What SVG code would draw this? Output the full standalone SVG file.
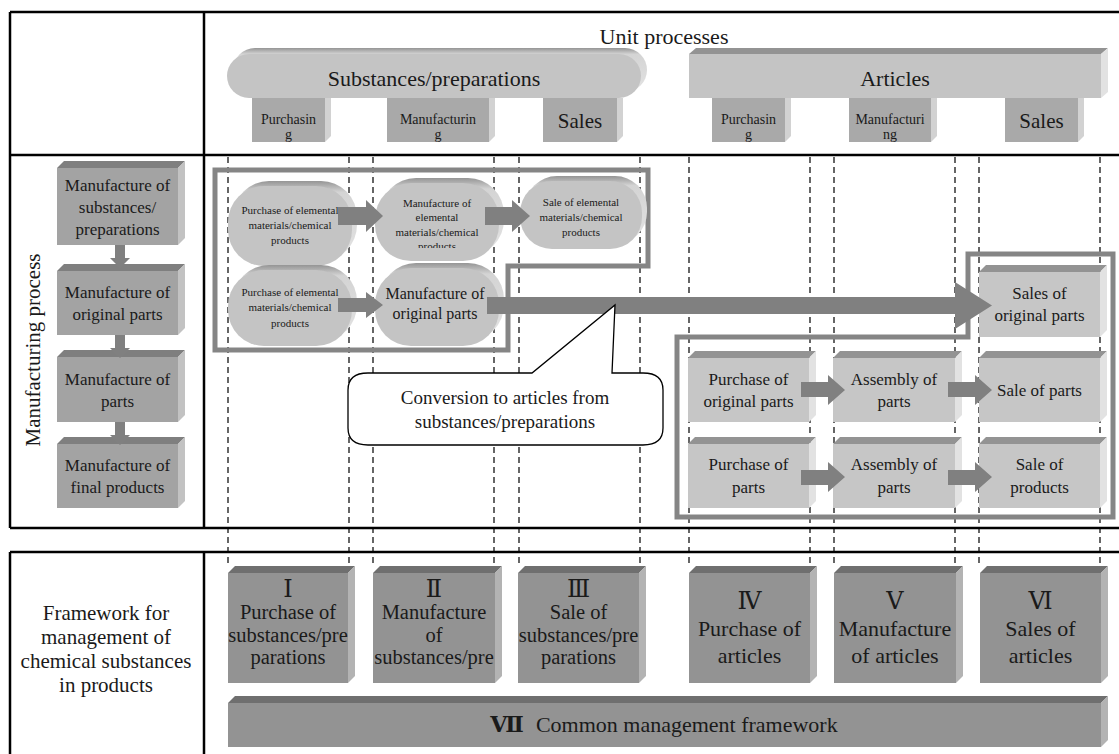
<svg xmlns="http://www.w3.org/2000/svg" width="1119" height="754" viewBox="0 0 1119 754">
<defs>
<style>
.t{font-family:"Liberation Serif","Times New Roman",serif;fill:#1a1a1a;text-anchor:middle}
.rn{font-family:"Liberation Serif","DejaVu Serif","Noto Sans CJK JP",serif;fill:#1a1a1a;text-anchor:middle}
.ln{stroke:#000;stroke-width:2.5;fill:none}
.dash{stroke:#000;stroke-width:1.2;stroke-dasharray:6 4;fill:none}
.frm{fill:none;stroke:#858585;stroke-width:5}
.arw{fill:#808080}
.lf{fill:#a3a3a3}.lt{fill:#7f7f7f}.ls{fill:#c2c2c2}
.bf{fill:#939393}.bt{fill:#6f6f6f}.bs{fill:#b3b3b3}
.rf{fill:#c6c6c6}.rt{fill:#939393}.rs{fill:#e2e2e2}
.hf{fill:#a9a9a9}.hs{fill:#d2d2d2}
.pf{fill:#c4c4c4}.pb{fill:url(#gb)}
</style>
<linearGradient id="gb" x1="0" y1="0" x2="0" y2="1">
<stop offset="0" stop-color="#959595"/><stop offset="0.14" stop-color="#d4d4d4"/><stop offset="1" stop-color="#e3e3e3"/>
</linearGradient>
<clipPath id="p2clip"><rect x="360" y="170" width="160" height="78"/></clipPath>
</defs>
<rect width="1119" height="754" fill="#fff"/>

<!-- table grid -->
<g id="grid">
<path class="ln" d="M10,12 H1119 M10,12 V528 M204,12 V528 M10,155 H1119 M10,528 H1119 M10,552 H1119 M10,552 V754 M204,552 V754"/>
</g>

<!-- dashed column guides -->
<g id="guides">
<path class="dash" d="M228,157 V567 M349,157 V567 M373,157 V567 M494,157 V567 M519,157 V567 M640,157 V567 M689,157 V567 M810,157 V567 M834,157 V567 M955,157 V567 M979,157 V567 M1100,157 V567"/>
</g>

<!-- header -->
<g id="unit-processes"><text class="t" x="664" y="44" font-size="22">Unit processes</text></g>

<g id="substances-bar">
<rect class="pb" x="233" y="48" width="414" height="44" rx="22"/>
<rect class="pf" x="227" y="54" width="414" height="44" rx="22"/>
<text class="t" x="434" y="86" font-size="22">Substances/preparations</text>
</g>
<g id="articles-bar">
<polygon class="rt" points="689,54 1101,54 1108,48 696,48"/>
<polygon class="rs" points="1101,54 1108,48 1108,92 1101,98"/>
<rect class="pf" x="689" y="54" width="412" height="44"/>
<text class="t" x="895" y="86" font-size="22">Articles</text>
</g>

<g id="sp-purchasing">
<rect class="hf" x="252" y="98" width="73" height="44"/>
<polygon class="hs" points="325,98 331,98 331,136 325,142"/>
<text class="t" x="288.5" y="124" font-size="14">Purchasin</text>
<text class="t" x="288.5" y="139" font-size="14">g</text>
</g>
<g id="sp-manufacturing">
<rect class="hf" x="387" y="98" width="102" height="44"/>
<polygon class="hs" points="489,98 495,98 495,136 489,142"/>
<text class="t" x="438" y="124" font-size="14">Manufacturin</text>
<text class="t" x="438" y="139" font-size="14">g</text>
</g>
<g id="sp-sales">
<rect class="hf" x="543" y="98" width="74" height="44"/>
<polygon class="hs" points="617,98 623,98 623,136 617,142"/>
<text class="t" x="580" y="128" font-size="21">Sales</text>
</g>
<g id="ar-purchasing">
<rect class="hf" x="712" y="98" width="73" height="44"/>
<polygon class="hs" points="785,98 791,98 791,136 785,142"/>
<text class="t" x="748.5" y="124" font-size="14">Purchasin</text>
<text class="t" x="748.5" y="139" font-size="14">g</text>
</g>
<g id="ar-manufacturing">
<rect class="hf" x="849" y="98" width="82" height="44"/>
<polygon class="hs" points="931,98 937,98 937,136 931,142"/>
<text class="t" x="890" y="124" font-size="14">Manufacturi</text>
<text class="t" x="890" y="139" font-size="14">ng</text>
</g>
<g id="ar-sales">
<rect class="hf" x="1005" y="98" width="73" height="44"/>
<polygon class="hs" points="1078,98 1084,98 1084,136 1078,142"/>
<text class="t" x="1041.5" y="128" font-size="21">Sales</text>
</g>

<!-- manufacturing process column -->
<g id="mp-label"><text class="t" font-size="21" transform="translate(40,350) rotate(-90)">Manufacturing process</text></g>

<g id="mp-1">
<polygon class="lt" points="57,168 178,168 185,161 64,161"/>
<polygon class="ls" points="178,168 185,161 185,238 178,245"/>
<rect class="lf" x="57" y="168" width="121" height="77"/>
<text class="t" x="117.5" y="190.5" font-size="17">Manufacture of</text>
<text class="t" x="117.5" y="212.5" font-size="17">substances/</text>
<text class="t" x="117.5" y="234.5" font-size="17">preparations</text>
</g>
<g id="mp-2">
<polygon class="lt" points="57,271 178,271 185,264 64,264"/>
<polygon class="ls" points="178,271 185,264 185,328 178,335"/>
<rect class="lf" x="57" y="271" width="121" height="64"/>
<text class="t" x="117.5" y="298" font-size="17">Manufacture of</text>
<text class="t" x="117.5" y="320" font-size="17">original parts</text>
</g>
<g id="mp-3">
<polygon class="lt" points="57,357 178,357 185,350 64,350"/>
<polygon class="ls" points="178,357 185,350 185,415 178,422"/>
<rect class="lf" x="57" y="357" width="121" height="65"/>
<text class="t" x="117.5" y="384.5" font-size="17">Manufacture of</text>
<text class="t" x="117.5" y="406.5" font-size="17">parts</text>
</g>
<g id="mp-4">
<polygon class="lt" points="57,444 178,444 185,437 64,437"/>
<polygon class="ls" points="178,444 185,437 185,501 178,508"/>
<rect class="lf" x="57" y="444" width="121" height="64"/>
<text class="t" x="117.5" y="471" font-size="17">Manufacture of</text>
<text class="t" x="117.5" y="493" font-size="17">final products</text>
</g>

<!-- grey frames -->
<g id="frames">
<polygon class="frm" points="215,170 648,170 648,266 508,266 508,350 215,350"/>
<polygon class="frm" points="968,254 1113,254 1113,517 677,517 677,337 968,337"/>
</g>

<!-- pills -->
<g id="pill-1">
<rect class="pb" x="233" y="181" width="124" height="80" rx="36"/>
<rect class="pf" x="228" y="186" width="124" height="80" rx="36"/>
<text class="t" x="290" y="214" font-size="11">Purchase of elemental</text>
<text class="t" x="290" y="229" font-size="11">materials/chemical</text>
<text class="t" x="290" y="244" font-size="11">products</text>
</g>
<g id="pill-2">
<rect class="pb" x="380" y="178" width="124" height="78" rx="36"/>
<rect class="pf" x="375" y="183" width="124" height="78" rx="36"/>
<g clip-path="url(#p2clip)">
<text class="t" x="437" y="207" font-size="11">Manufacture of</text>
<text class="t" x="437" y="221" font-size="11">elemental</text>
<text class="t" x="437" y="236" font-size="11">materials/chemical</text>
<text class="t" x="437" y="250" font-size="11">products</text>
</g>
</g>
<g id="pill-3">
<rect class="pb" x="525" y="176" width="122" height="68" rx="32"/>
<rect class="pf" x="520" y="181" width="122" height="68" rx="32"/>
<text class="t" x="581" y="206" font-size="11">Sale of elemental</text>
<text class="t" x="581" y="221" font-size="11">materials/chemical</text>
<text class="t" x="581" y="236" font-size="11">products</text>
</g>
<g id="pill-4">
<rect class="pb" x="233" y="265" width="124" height="76" rx="36"/>
<rect class="pf" x="228" y="270" width="124" height="76" rx="36"/>
<text class="t" x="290" y="296" font-size="11">Purchase of elemental</text>
<text class="t" x="290" y="311" font-size="11">materials/chemical</text>
<text class="t" x="290" y="327" font-size="11">products</text>
</g>
<g id="pill-5">
<rect class="pb" x="380" y="263" width="124" height="78" rx="36"/>
<rect class="pf" x="375" y="268" width="124" height="78" rx="36"/>
<text class="t" x="435" y="299" font-size="16">Manufacture of</text>
<text class="t" x="435" y="319" font-size="16">original parts</text>
</g>

<!-- right boxes -->
<g id="sales-original-parts">
<polygon class="rt" points="979,272 1100,272 1107,265 986,265"/>
<polygon class="rs" points="1100,272 1107,265 1107,330 1100,337"/>
<rect class="rf" x="979" y="272" width="121" height="65"/>
<text class="t" x="1039.5" y="299" font-size="17">Sales of</text>
<text class="t" x="1039.5" y="321" font-size="17">original parts</text>
</g>
<g id="purchase-original-parts">
<polygon class="rt" points="688,358 809,358 816,351 695,351"/>
<polygon class="rs" points="809,358 816,351 816,415 809,422"/>
<rect class="rf" x="688" y="358" width="121" height="64"/>
<text class="t" x="748.5" y="385" font-size="17">Purchase of</text>
<text class="t" x="748.5" y="407" font-size="17">original parts</text>
</g>
<g id="assembly-parts-1">
<polygon class="rt" points="833,358 955,358 962,351 840,351"/>
<polygon class="rs" points="955,358 962,351 962,415 955,422"/>
<rect class="rf" x="833" y="358" width="122" height="64"/>
<text class="t" x="894" y="385" font-size="17">Assembly of</text>
<text class="t" x="894" y="407" font-size="17">parts</text>
</g>
<g id="sale-of-parts">
<polygon class="rt" points="979,358 1100,358 1107,351 986,351"/>
<polygon class="rs" points="1100,358 1107,351 1107,415 1100,422"/>
<rect class="rf" x="979" y="358" width="121" height="64"/>
<text class="t" x="1039.5" y="396" font-size="17">Sale of parts</text>
</g>
<g id="purchase-parts">
<polygon class="rt" points="688,444 809,444 816,437 695,437"/>
<polygon class="rs" points="809,444 816,437 816,501 809,508"/>
<rect class="rf" x="688" y="444" width="121" height="64"/>
<text class="t" x="748.5" y="470" font-size="17">Purchase of</text>
<text class="t" x="748.5" y="493" font-size="17">parts</text>
</g>
<g id="assembly-parts-2">
<polygon class="rt" points="833,444 955,444 962,437 840,437"/>
<polygon class="rs" points="955,444 962,437 962,501 955,508"/>
<rect class="rf" x="833" y="444" width="122" height="64"/>
<text class="t" x="894" y="470" font-size="17">Assembly of</text>
<text class="t" x="894" y="493" font-size="17">parts</text>
</g>
<g id="sale-of-products">
<polygon class="rt" points="979,444 1100,444 1107,437 986,437"/>
<polygon class="rs" points="1100,444 1107,437 1107,501 1100,508"/>
<rect class="rf" x="979" y="444" width="121" height="64"/>
<text class="t" x="1039.5" y="470" font-size="17">Sale of</text>
<text class="t" x="1039.5" y="493" font-size="17">products</text>
</g>

<!-- connectors -->
<g id="connectors" class="arw">
<polygon points="115,245 125,245 125,258 130,258 120,268 110,258 115,258"/>
<polygon points="115,335 125,335 125,348 130,348 120,358 110,348 115,348"/>
<polygon points="115,422 125,422 125,435 130,435 120,445 110,435 115,435"/>
<polygon points="338,207 366,207 366,200 383,216 366,232 366,225 338,225"/>
<polygon points="485,207 512,207 512,200 530,216 512,232 512,225 485,225"/>
<polygon points="338,298 366,298 366,292 383,305 366,318 366,312 338,312"/>
<polygon points="487,297 955,297 955,282 992,305.5 955,329 955,314 487,314"/>
<polygon points="801,382 828,382 828,375 845,390 828,405 828,397 801,397"/>
<polygon points="948,382 975,382 975,375 992,390 975,405 975,397 948,397"/>
<polygon points="801,470 828,470 828,462 845,477 828,492 828,485 801,485"/>
<polygon points="948,470 975,470 975,462 992,477 975,492 975,485 948,485"/>
</g>

<!-- callout -->
<g id="callout">
<path d="M348,390 Q348,373 368,373 L532,373 L615,305 L612,373 L643,373 Q663,373 663,390 L663,428 Q663,445 643,445 L368,445 Q348,445 348,428 Z" fill="#fff" stroke="#000" stroke-width="1.3"/>
<text class="t" x="505" y="404" font-size="19">Conversion to articles from</text>
<text class="t" x="505" y="428" font-size="19">substances/preparations</text>
</g>

<!-- framework row -->
<g id="framework-label">
<text class="t" x="106" y="620" font-size="21">Framework for</text>
<text class="t" x="106" y="644" font-size="21">management of</text>
<text class="t" x="106" y="668" font-size="21">chemical substances</text>
<text class="t" x="106" y="692" font-size="21">in products</text>
</g>
<g id="fw-1">
<polygon class="bt" points="228,573 348,573 355,566 235,566"/>
<polygon class="bs" points="348,573 355,566 355,676 348,683"/>
<rect class="bf" x="228" y="573" width="120" height="110"/>
<text class="rn" x="288" y="597" font-size="24">Ⅰ</text>
<text class="t" x="288" y="619" font-size="20.5">Purchase of</text>
<text class="t" x="288" y="642" font-size="20.5">substances/pre</text>
<text class="t" x="288" y="664" font-size="20.5">parations</text>
</g>
<g id="fw-2">
<polygon class="bt" points="373,573 495,573 502,566 380,566"/>
<polygon class="bs" points="495,573 502,566 502,676 495,683"/>
<rect class="bf" x="373" y="573" width="122" height="110"/>
<text class="rn" x="434" y="597" font-size="24">Ⅱ</text>
<text class="t" x="434" y="619" font-size="20.5">Manufacture</text>
<text class="t" x="434" y="642" font-size="20.5">of</text>
<text class="t" x="434" y="664" font-size="20.5">substances/pre</text>
</g>
<g id="fw-3">
<polygon class="bt" points="518,573 639,573 646,566 525,566"/>
<polygon class="bs" points="639,573 646,566 646,676 639,683"/>
<rect class="bf" x="518" y="573" width="121" height="110"/>
<text class="rn" x="578.5" y="597" font-size="24">Ⅲ</text>
<text class="t" x="578.5" y="619" font-size="20.5">Sale of</text>
<text class="t" x="578.5" y="642" font-size="20.5">substances/pre</text>
<text class="t" x="578.5" y="664" font-size="20.5">parations</text>
</g>
<g id="fw-4">
<polygon class="bt" points="689,573 810,573 817,566 696,566"/>
<polygon class="bs" points="810,573 817,566 817,676 810,683"/>
<rect class="bf" x="689" y="573" width="121" height="110"/>
<text class="rn" x="749.5" y="609" font-size="24">Ⅳ</text>
<text class="t" x="749.5" y="636" font-size="22">Purchase of</text>
<text class="t" x="749.5" y="663" font-size="22">articles</text>
</g>
<g id="fw-5">
<polygon class="bt" points="834,573 956,573 963,566 841,566"/>
<polygon class="bs" points="956,573 963,566 963,676 956,683"/>
<rect class="bf" x="834" y="573" width="122" height="110"/>
<text class="rn" x="895" y="609" font-size="24">Ⅴ</text>
<text class="t" x="895" y="636" font-size="22">Manufacture</text>
<text class="t" x="895" y="663" font-size="22">of articles</text>
</g>
<g id="fw-6">
<polygon class="bt" points="980,573 1101,573 1108,566 987,566"/>
<polygon class="bs" points="1101,573 1108,566 1108,676 1101,683"/>
<rect class="bf" x="980" y="573" width="121" height="110"/>
<text class="rn" x="1040.5" y="609" font-size="24">Ⅵ</text>
<text class="t" x="1040.5" y="636" font-size="22">Sales of</text>
<text class="t" x="1040.5" y="663" font-size="22">articles</text>
</g>
<g id="fw-7">
<polygon class="bt" points="228,703 1101,703 1108,696 235,696"/>
<polygon class="bs" points="1101,703 1108,696 1108,740 1101,747"/>
<rect class="bf" x="228" y="703" width="873" height="44"/>
<text class="t" x="664" y="732" font-size="22"><tspan font-weight="bold" font-family="'Liberation Serif','DejaVu Serif','Noto Sans CJK JP',serif">Ⅶ</tspan><tspan dx="12">Common management framework</tspan></text>
</g>
</svg>
